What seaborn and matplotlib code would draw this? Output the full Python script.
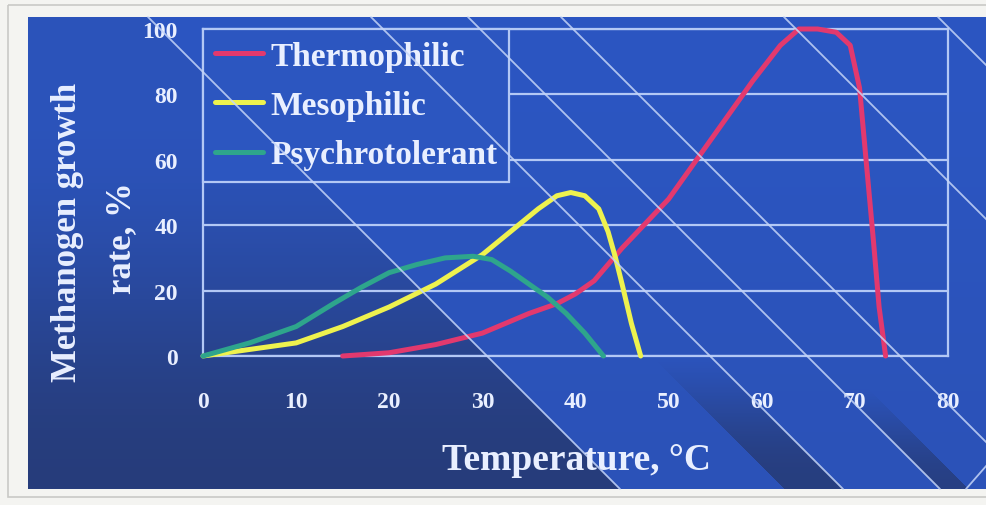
import numpy as np
import pandas as pd
import matplotlib
matplotlib.use("Agg")
import matplotlib.pyplot as plt
from matplotlib.patches import Rectangle
import seaborn as sns

# Growth-rate curves (% of maximum) against temperature (deg C)
thermo_t = [15, 20, 25, 30, 35, 38, 40, 42, 45, 48, 50, 53, 56, 59, 62, 64, 66, 68, 69.5, 70.5, 71.2, 72, 72.6, 73.3]
thermo_rate = [0, 1, 3.5, 7, 13, 16, 19, 23, 33, 42, 48, 60, 72, 84, 95, 100, 100, 99, 95, 82, 60, 35, 15, 0]
meso_t = [0, 5, 10, 15, 20, 25, 30, 33, 36, 38, 39.5, 41, 42.5, 43.5, 44.3, 45, 46, 47]
meso_rate = [0, 2, 4, 9, 15, 22, 31, 38, 45, 49, 50, 49, 45, 38, 30, 22, 10, 0]
psychro_t = [0, 5, 10, 14, 17, 20, 23, 26, 29, 31, 33, 35, 37, 39, 41, 43]
psychro_rate = [0, 4, 9, 16, 21, 25.5, 28, 30, 30.5, 29.5, 26, 22, 18, 13, 7, 0]

groups = ["Thermophilic", "Mesophilic", "Psychrotolerant"]
x_ticks = [0, 10, 20, 30, 40, 50, 60, 70, 80]
y_ticks = [0, 20, 40, 60, 80, 100]

df = pd.concat([
    pd.DataFrame({"t": thermo_t, "rate": thermo_rate, "group": groups[0]}),
    pd.DataFrame({"t": meso_t, "rate": meso_rate, "group": groups[1]}),
    pd.DataFrame({"t": psychro_t, "rate": psychro_rate, "group": groups[2]}),
], ignore_index=True)

palette = {"Thermophilic": "#e2396e", "Mesophilic": "#eef24e", "Psychrotolerant": "#2ea58c"}

sns.set_style("white")
plt.rcParams["font.family"] = ["Liberation Serif", "DejaVu Serif"]
plt.rcParams["font.weight"] = "bold"

W, H = 987, 506
fig = plt.figure(figsize=(W / 100, H / 100), dpi=100)
fig.patch.set_facecolor("#f4f4f2")

# ---- slide background: blue panel with darker diagonal bands ----
bg = fig.add_axes([0, 0, 1, 1])
bg.set_xlim(0, W)
bg.set_ylim(H, 0)
bg.axis("off")

yy, xx = np.mgrid[0:H, 0:W] + 0.5


def smooth(v):
    v = np.clip(v, 0, 1)
    return v * v * (3 - 2 * v)


bright = np.array([44, 86, 194]) / 255
dark = np.array([38, 58, 116]) / 255
w = np.zeros_like(xx)
w = np.where(yy > xx - 130, 0.1 + 0.8 * smooth((yy - 120) / 360), w)
band1 = (yy >= xx - 353) & (yy <= xx - 295)
w = np.maximum(w, np.where(band1, 0.85 * smooth((yy - 330) / 150), 0))
band2 = (yy >= xx - 478) & (yy <= xx - 450)
w = np.maximum(w, np.where(band2, 0.8 * smooth((yy - 360) / 130), 0))
w = np.maximum(w, 0.12 * smooth((yy - 18) / 470))
img = bright[None, None, :] * (1 - w[..., None]) + dark[None, None, :] * w[..., None]
panel = (xx >= 28) & (xx <= 987) & (yy >= 18) & (yy <= 490)
face = np.array([244, 244, 242]) / 255
img = np.where(panel[..., None], img, face[None, None, :])
bg.imshow(img, extent=[0, W, H, 0], interpolation="bilinear", aspect="auto")
bg.add_patch(Rectangle((8, 6), 990, 492, fill=False, edgecolor="#c9c9c6", lw=1.2))

# ---- chart ----
grid_c = "#b3c8f5"
text_c = "#e9efff"
ax = fig.add_axes([203 / W, (H - 357) / H, 745 / W, 327 / H])
ax.set_facecolor("none")
sns.lineplot(data=df, x="t", y="rate", hue="group", hue_order=groups,
             palette=palette, estimator=None, sort=False, lw=3.6, ax=ax,
             clip_on=False, zorder=4)
ax.set_xlim(0, 80)
ax.set_ylim(0, 100)
ax.set_xticks(x_ticks)
ax.set_yticks(y_ticks)
ax.set_xlabel("")
ax.set_ylabel("")
ax.yaxis.grid(True, color=grid_c, lw=1.6)
ax.set_axisbelow(True)
for s in ax.spines.values():
    s.set_color(grid_c)
    s.set_linewidth(1.6)
ax.tick_params(axis="x", direction="out", length=6, width=1.5, color=grid_c,
               pad=19, labelsize=17, labelcolor=text_c)
ax.tick_params(axis="y", direction="out", length=6, width=1.5, color=grid_c,
               pad=12, labelsize=17, labelcolor=text_c)

handles, labels = ax.get_legend_handles_labels()
leg = ax.legend(handles, labels, loc="upper left", bbox_to_anchor=(0, 1),
                borderaxespad=0, frameon=True, fancybox=False,
                facecolor="#2c56c0", edgecolor=grid_c, framealpha=1,
                prop={"family": "Liberation Serif", "weight": "bold", "size": 24},
                handlelength=1.45, handletextpad=0.22, labelspacing=0.55,
                borderpad=0.35)
leg.get_frame().set_linewidth(1.6)
leg.set_zorder(5)
for t in leg.get_texts():
    t.set_color(text_c)
for h in leg.get_lines():
    h.set_linewidth(3.6)

# ---- overlay: diagonal slide lines and axis titles ----
ov = fig.add_axes([0, 0, 1, 1])
ov.set_xlim(0, W)
ov.set_ylim(H, 0)
ov.axis("off")
ov.patch.set_alpha(0)
for b in [-130, -353, -450, -543, -766, -920]:
    y0 = max(18, 28 + b)
    y1 = min(490, 987 + b)
    ov.plot([y0 - b, y1 - b], [y0, y1], color="#c6d6f8", lw=1.3, alpha=0.85)
ov.plot([966, 987], [490, 466], color="#c6d6f8", lw=1.3, alpha=0.85)

ov.text(68, 232, "Methanogen growth", rotation=90, ha="center", va="center",
        fontsize=25, fontweight="bold", color=text_c)
ov.text(122, 238, "rate, %", rotation=90, ha="center", va="center",
        fontsize=25, fontweight="bold", color=text_c)
ov.text(576, 461, "Temperature, °C", ha="center", va="center",
        fontsize=27, fontweight="bold", color=text_c)

fig.savefig("out.png", dpi=100, facecolor=fig.get_facecolor())
